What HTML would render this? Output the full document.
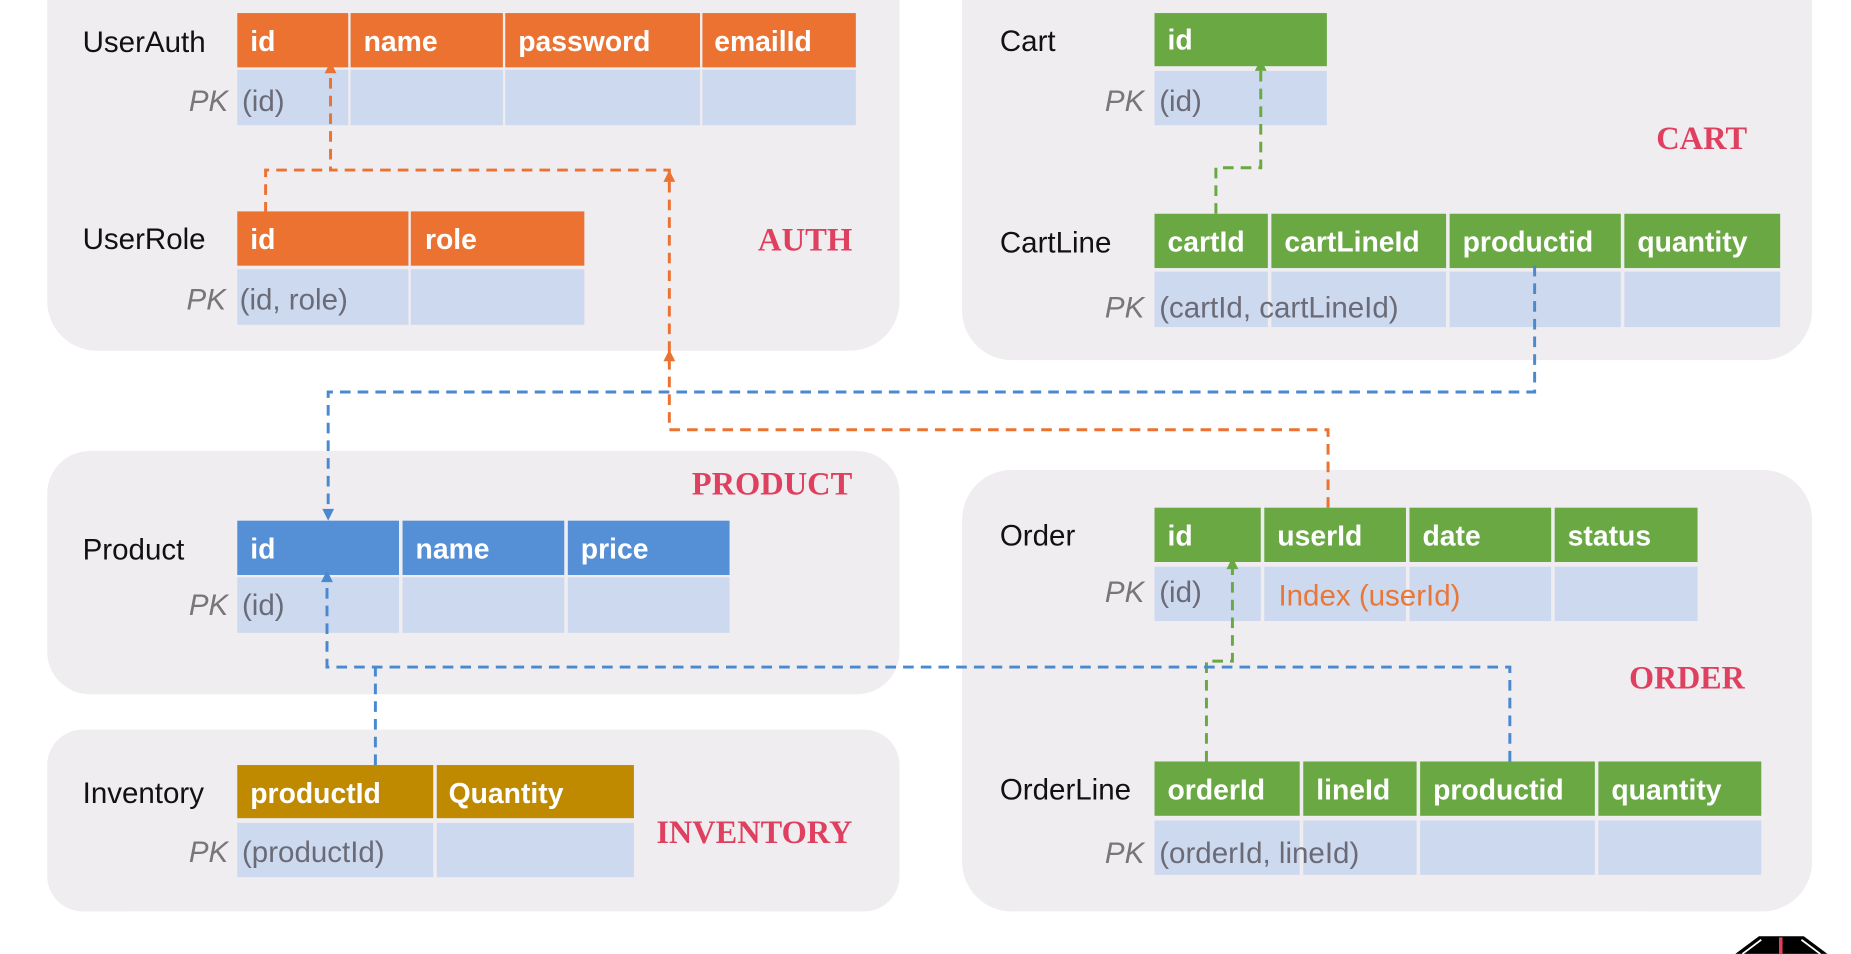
<!DOCTYPE html>
<html><head><meta charset="utf-8"><style>
html,body{margin:0;padding:0;background:#fff;overflow:hidden}
svg{display:block}
.h{font:bold 24px "Liberation Sans",sans-serif;fill:#fff}
.l{font:25px "Liberation Sans",sans-serif;fill:#111}
.pk{font:italic 25px "Liberation Sans",sans-serif;fill:#777}
.v{font:25px "Liberation Sans",sans-serif;fill:#6b6b78}
.t{font:900 28px "Liberation Serif",serif;fill:#e0405f}
</style></head><body>
<svg width="1851" height="954" viewBox="0 0 1568 808" xmlns="http://www.w3.org/2000/svg">
<g fill="#efedf0">
<rect x="40" y="-40" width="722" height="337" rx="42"/>
<rect x="815" y="-40" width="720" height="345" rx="42"/>
<rect x="40" y="382" width="722" height="206" rx="36"/>
<rect x="40" y="618" width="722" height="154" rx="30"/>
<rect x="815" y="398" width="720" height="374" rx="42"/>
</g>
<text class="t" x="642" y="212" textLength="80" lengthAdjust="spacingAndGlyphs">AUTH</text>
<text class="t" x="1403" y="126" textLength="77" lengthAdjust="spacingAndGlyphs">CART</text>
<text class="t" x="586" y="419" textLength="136" lengthAdjust="spacingAndGlyphs">PRODUCT</text>
<text class="t" x="556" y="714" textLength="166" lengthAdjust="spacingAndGlyphs">INVENTORY</text>
<text class="t" x="1380" y="583" textLength="98" lengthAdjust="spacingAndGlyphs">ORDER</text>
<!-- UserAuth -->
<g fill="#ec7232"><rect x="201" y="11" width="94" height="46"/><rect x="297" y="11" width="129" height="46"/><rect x="428" y="11" width="165" height="46"/><rect x="595" y="11" width="130" height="46"/></g>
<g fill="#cdd9ee"><rect x="201" y="59" width="94" height="47"/><rect x="297" y="59" width="129" height="47"/><rect x="428" y="59" width="165" height="47"/><rect x="595" y="59" width="130" height="47"/></g>
<text class="h" x="212" y="43">id</text><text class="h" x="308" y="43">name</text><text class="h" x="439" y="43">password</text><text class="h" x="605" y="43">emailId</text>
<text class="l" x="70" y="44">UserAuth</text><text class="pk" x="160" y="94">PK</text><text class="v" x="205" y="94">(id)</text>
<!-- UserRole -->
<g fill="#ec7232"><rect x="201" y="179" width="145" height="46"/><rect x="348" y="179" width="147" height="46"/></g>
<g fill="#cdd9ee"><rect x="201" y="228" width="145" height="47"/><rect x="348" y="228" width="147" height="47"/></g>
<text class="h" x="212" y="211">id</text><text class="h" x="360" y="211">role</text>
<text class="l" x="70" y="211">UserRole</text><text class="pk" x="158" y="262">PK</text><text class="v" x="203" y="262">(id, role)</text>
<!-- Cart -->
<rect x="978" y="11" width="146" height="45" fill="#69a843"/><rect x="978" y="60" width="146" height="46" fill="#cdd9ee"/>
<text class="h" x="989" y="42">id</text><text class="l" x="847" y="43">Cart</text><text class="pk" x="936" y="94">PK</text><text class="v" x="982" y="94">(id)</text>
<!-- CartLine -->
<g fill="#69a843"><rect x="978" y="181" width="96" height="46"/><rect x="1077" y="181" width="148" height="46"/><rect x="1228" y="181" width="145" height="46"/><rect x="1376" y="181" width="132" height="46"/></g>
<g fill="#cdd9ee"><rect x="978" y="230" width="96" height="47"/><rect x="1077" y="230" width="148" height="47"/><rect x="1228" y="230" width="145" height="47"/><rect x="1376" y="230" width="132" height="47"/></g>
<text class="h" x="989" y="213">cartId</text><text class="h" x="1088" y="213">cartLineId</text><text class="h" x="1239" y="213">productid</text><text class="h" x="1387" y="213">quantity</text>
<text class="l" x="847" y="214">CartLine</text><text class="pk" x="936" y="269">PK</text><text class="v" x="982" y="269">(cartId,  cartLineId)</text>
<!-- Product -->
<g fill="#5590d6"><rect x="201" y="441" width="137" height="46"/><rect x="341" y="441" width="137" height="46"/><rect x="481" y="441" width="137" height="46"/></g>
<g fill="#cdd9ee"><rect x="201" y="489" width="137" height="47"/><rect x="341" y="489" width="137" height="47"/><rect x="481" y="489" width="137" height="47"/></g>
<text class="h" x="212" y="473">id</text><text class="h" x="352" y="473">name</text><text class="h" x="492" y="473">price</text>
<text class="l" x="70" y="474">Product</text><text class="pk" x="160" y="521">PK</text><text class="v" x="205" y="521">(id)</text>
<!-- Inventory -->
<g fill="#c08a00"><rect x="201" y="648" width="166" height="45"/><rect x="370" y="648" width="167" height="45"/></g>
<g fill="#cdd9ee"><rect x="201" y="697" width="166" height="46"/><rect x="370" y="697" width="167" height="46"/></g>
<text class="h" x="212" y="680">productId</text><text class="h" x="380" y="680">Quantity</text>
<text class="l" x="70" y="680">Inventory</text><text class="pk" x="160" y="730">PK</text><text class="v" x="205" y="730">(productId)</text>
<!-- Order -->
<g fill="#69a843"><rect x="978" y="430" width="90" height="46"/><rect x="1071" y="430" width="120" height="46"/><rect x="1194" y="430" width="120" height="46"/><rect x="1317" y="430" width="121" height="46"/></g>
<g fill="#cdd9ee"><rect x="978" y="480" width="90" height="46"/><rect x="1071" y="480" width="120" height="46"/><rect x="1194" y="480" width="120" height="46"/><rect x="1317" y="480" width="121" height="46"/></g>
<text class="h" x="989" y="462">id</text><text class="h" x="1082" y="462">userId</text><text class="h" x="1205" y="462">date</text><text class="h" x="1328" y="462">status</text>
<text class="l" x="847" y="462">Order</text><text class="pk" x="936" y="510">PK</text><text class="v" x="982" y="510">(id)</text>
<text class="v" x="1083" y="513" style="fill:#e8773a">Index (userId)</text>
<!-- OrderLine -->
<g fill="#69a843"><rect x="978" y="645" width="123" height="46"/><rect x="1104" y="645" width="96" height="46"/><rect x="1203" y="645" width="148" height="46"/><rect x="1354" y="645" width="138" height="46"/></g>
<g fill="#cdd9ee"><rect x="978" y="695" width="123" height="46"/><rect x="1104" y="695" width="96" height="46"/><rect x="1203" y="695" width="148" height="46"/><rect x="1354" y="695" width="138" height="46"/></g>
<text class="h" x="989" y="677">orderId</text><text class="h" x="1115" y="677">lineId</text><text class="h" x="1214" y="677">productid</text><text class="h" x="1365" y="677">quantity</text>
<text class="l" x="847" y="677">OrderLine</text><text class="pk" x="936" y="731">PK</text><text class="v" x="982" y="731">(orderId,  lineId)</text>
<!-- connectors -->
<g fill="none" stroke-width="2.5" stroke-dasharray="9,6">
<path d="M1125,430 V364 H567 V144 H280 V58" stroke="#ec7232"/>
<path d="M225,180 V144 H280" stroke="#ec7232"/>
<path d="M1030,181 V142 H1068 V54" stroke="#69a843"/>
<path d="M1022,645 V560 H1044 V474" stroke="#69a843"/>
<path d="M1300,225 V332 H278 V436" stroke="#4a88d0"/>
<path d="M1279,645 V565 H277 V485" stroke="#4a88d0"/>
<path d="M318,648 V565" stroke="#4a88d0"/>
</g>
<g>
<path d="M275,62 L280,52 L285,62Z" fill="#ec7232"/>
<path d="M562,306 L567,296 L572,306Z" fill="#ec7232"/>
<path d="M562,154 L567,144 L572,154Z" fill="#ec7232"/>
<path d="M1063,60 L1068,50 L1073,60Z" fill="#69a843"/>
<path d="M1039,482 L1044,472 L1049,482Z" fill="#69a843"/>
<path d="M273,431 L278,441 L283,431Z" fill="#4a88d0"/>
<path d="M272,493 L277,483 L282,493Z" fill="#4a88d0"/>
</g>
<path d="M1470,808 L1490,793 L1528,793 L1548,808Z" fill="#000"/>
<path d="M1476,808 L1492,796 M1542,808 L1526,796" stroke="#fff" stroke-width="1.5"/>
<rect x="1507" y="794" width="3" height="14" fill="#e0405f"/>
</svg>
</body></html>
